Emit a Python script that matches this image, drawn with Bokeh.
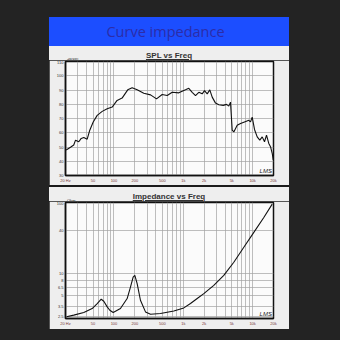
from bokeh.plotting import figure
from bokeh.layouts import column
from bokeh.models import Div, FixedTicker, Range1d, Label
from bokeh.embed import file_html
from bokeh.resources import INLINE

# ---- data -------------------------------------------------------------
spl_freq = [20.5, 23.6, 26.3, 27.9, 31.1, 33.7, 36.7, 41.1, 44.8, 50.2,
            57.3, 67.7, 79.9, 94.3, 111, 131, 158, 183, 216, 269,
            337, 411, 496, 586, 692, 862, 1076, 1201, 1344, 1501,
            1674, 1874, 2023, 2212, 2411, 2612, 2916, 3254, 3766, 4202,
            4534, 4797, 5075, 5352, 5991, 6687, 7637, 8808, 9320, 9862,
            10644, 11642, 12694, 13748, 14840, 15857, 17112, 18108, 19160, 19808]
spl_db = [47.9, 49.8, 51.4, 54.8, 53.7, 56.0, 56.7, 55.5, 61.8, 67.6,
          72.2, 75.0, 76.9, 78.0, 82.7, 84.3, 90.1, 91.5, 90.1, 87.7,
          86.6, 83.8, 86.8, 86.1, 88.4, 88.0, 90.1, 91.2, 88.4, 86.1,
          88.4, 87.3, 89.6, 87.3, 90.1, 85.0, 80.8, 79.7, 79.2, 79.9,
          78.7, 81.5, 61.8, 60.6, 65.3, 66.5, 67.6, 68.7, 67.6, 71.0,
          62.3, 57.1, 54.8, 57.1, 53.7, 58.3, 52.5, 50.2, 45.6, 40.9]

imp_freq = [20.7, 26.3, 36.7, 48.5, 57.3, 65.5, 71.3, 79.9, 87.1, 97.5,
            124, 155, 173, 189, 200, 216, 241, 285, 337, 469,
            730, 1017, 1270, 1587, 1976, 2754, 3838, 5352, 7464, 10400,
            14494, 19156]
imp_ohm = [2.48, 2.62, 2.85, 3.24, 3.81, 4.38, 4.10, 3.42, 3.07, 2.85,
           3.24, 4.48, 6.50, 8.97, 9.47, 7.25, 4.24, 2.91, 2.70, 2.76,
           3.00, 3.31, 3.81, 4.48, 5.26, 6.87, 9.47, 14.5, 23.5, 38.1,
           61.7, 95.0]

freq_ticks = [20, 50, 100, 200, 500, 1000, 2000, 5000, 10000, 20000]
freq_labels = ["20 Hz", "50", "100", "200", "500", "1k", "2k", "5k", "10k", "20k"]
spl_ticks = [30, 40, 50, 60, 70, 80, 90, 100, 110]
imp_ticks = [2.5, 3.5, 5, 6.5, 8, 10, 40, 100]

# log-paper grid: every 1..9 multiple per decade
freq_grid = [m * 10 ** e for e in range(1, 5) for m in range(1, 10)
             if 20 <= m * 10 ** e <= 20000]

PANEL = "#eeeeee"
DARK = "#232323"


def tick_text(t):
    return str(t).rstrip("0").rstrip(".") if isinstance(t, float) else str(t)


def chart(height, y_type, y_lo, y_hi, y_ticks, top, bottom):
    p = figure(width=240, height=height, x_axis_type="log", y_axis_type=y_type,
               x_range=Range1d(20, 20000), y_range=Range1d(y_lo, y_hi),
               output_backend="svg", toolbar_location=None,
               min_border_left=16, min_border_right=16,
               min_border_top=top, min_border_bottom=bottom,
               background_fill_color="#fbfbfb", border_fill_color=PANEL,
               outline_line_color="#111111", outline_line_width=1.5,
               margin=(0, 0, 0, 49))
    p.xaxis.ticker = FixedTicker(ticks=freq_ticks)
    p.xaxis.major_label_overrides = {t: l for t, l in zip(freq_ticks, freq_labels)}
    p.yaxis.ticker = FixedTicker(ticks=y_ticks)
    p.yaxis.major_label_overrides = {t: tick_text(t) for t in y_ticks}
    for ax in (p.xaxis, p.yaxis):
        ax.axis_line_color = "#111111"
        ax.axis_line_width = 1.5
        ax.major_tick_line_color = None
        ax.minor_tick_line_color = None
        ax.major_tick_out = 0
        ax.major_tick_in = 0
        ax.minor_tick_out = 0
        ax.minor_tick_in = 0
        ax.major_label_standoff = 2
        ax.major_label_text_font_size = "4px"
        ax.major_label_text_font = "Liberation Sans"
    p.xaxis.major_label_text_color = "#7a3a3a"
    p.yaxis.major_label_text_color = "#333333"
    p.xgrid.ticker = FixedTicker(ticks=freq_grid)
    p.xgrid.grid_line_color = "#a2a2a2"
    p.xgrid.grid_line_width = 0.7
    p.ygrid.ticker = FixedTicker(ticks=y_ticks)
    p.ygrid.grid_line_color = "#a2a2a2"
    p.ygrid.grid_line_width = 0.7
    p.add_layout(Label(x=19000, y=y_lo, y_offset=2, text="LMS",
                       text_font_size="6px", text_font_style="italic",
                       text_color="#222222", text_font="Liberation Sans",
                       text_align="right", text_baseline="bottom"))
    return p


spl = chart(125, "linear", 30, 110, spl_ticks, 1, 9)
spl.line(spl_freq, spl_db, line_color="#111111", line_width=1.1)

imp = chart(128, "log", 2.35, 100, imp_ticks, 1, 11)
imp.line(imp_freq, imp_ohm, line_color="#111111", line_width=1.1)


def title_div(text, unit, height):
    return Div(text=f'<div style="position:relative;width:240px;height:{height}px;'
                    f'line-height:{height}px;text-align:center;'
                    f'font-family:\'Liberation Sans\';font-size:8px;font-weight:bold;'
                    f'color:#333;"><span style="text-decoration:underline;">{text}</span>'
                    f'<span style="position:absolute;left:18px;bottom:1px;line-height:5px;'
                    f'font-size:4px;font-weight:normal;color:#333;">{unit}</span></div>',
               width=240, height=height, margin=(0, 0, 0, 49),
               styles={"background-color": PANEL})


header = Div(text='<div style="width:240px;height:29px;line-height:29px;text-align:center;'
                  'font-family:\'Open Sans\';font-size:14.5px;color:#2c2ca8;'
                  'padding-right:7px;box-sizing:border-box;">Curve impedance</div>',
             width=240, height=29, margin=(17, 0, 0, 49),
             styles={"background-color": "#1c4eff"})
separator = Div(text="", width=240, height=2, margin=(0, 0, 0, 49),
                styles={"background-color": "#1a1a1a"})

page = column(header, title_div("SPL vs Freq", "dBSPL", 14), spl, separator,
              title_div("Impedance vs Freq", "Ohm", 14), imp,
              width=340, height=340, spacing=0, margin=(0, 0, 0, 0),
              styles={"background-color": DARK})

open("out.html", "w").write(file_html(page, INLINE))
